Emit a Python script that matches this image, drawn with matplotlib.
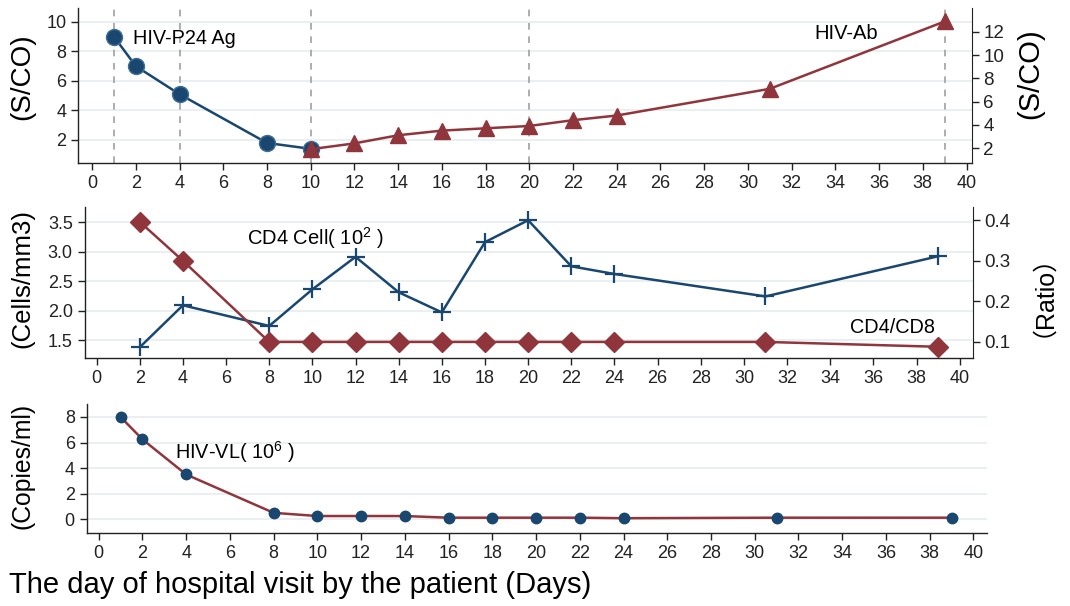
import matplotlib
matplotlib.use('Agg')
import matplotlib.pyplot as plt
import numpy as np

plt.rcParams['font.family'] = ['Liberation Sans', 'Noto Sans CJK SC', 'DejaVu Sans']

# 색상 (Stata s2color 비슷하게)
navy = '#1a476f'
maroon = '#90353b'
grid_c = '#e6eef0'

# panel 1: HIV-P24 Ag / HIV-Ab
p24_days = [1, 2, 4, 8, 10]
p24_vals = [9.0, 7.0, 5.1, 1.8, 1.4]
ab_days = [10, 12, 14, 16, 18, 20, 22, 24, 31, 39]
ab_vals = [1.9, 2.4, 3.1, 3.5, 3.7, 3.9, 4.4, 4.8, 7.1, 12.9]
dash_days = [1, 4, 10, 20, 39]

# panel 2: CD4 cell / CD4/CD8 ratio
cd4_days = [2, 4, 8, 10, 12, 14, 16, 18, 20, 22, 24, 31, 39]
cd4_vals = [1.38, 2.09, 1.74, 2.36, 2.91, 2.31, 1.97, 3.16, 3.53, 2.75, 2.62, 2.24, 2.92]
ratio_days = [2, 4, 8, 10, 12, 14, 16, 18, 20, 22, 24, 31, 39]
ratio_vals = [0.396, 0.30, 0.10, 0.10, 0.10, 0.10, 0.10, 0.10, 0.10, 0.10, 0.10, 0.10, 0.088]

# panel 3: HIV viral load
vl_days = [1, 2, 4, 8, 10, 12, 14, 16, 18, 20, 22, 24, 31, 39]
vl_vals = [8.0, 6.25, 3.5, 0.5, 0.25, 0.25, 0.25, 0.12, 0.12, 0.12, 0.12, 0.08, 0.12, 0.12]

xticks = list(range(0, 41, 2))
W, H = 1070, 606


def style_axis(ax, grid_ticks):
    for s in ['top', 'right']:
        ax.spines[s].set_visible(False)
    for s in ['left', 'bottom']:
        ax.spines[s].set_color('#222222')
        ax.spines[s].set_linewidth(1.0)
    ax.set_xticks(xticks)
    ax.tick_params(axis='both', direction='out', length=5, width=1, labelsize=13, colors='#222222')
    for t in grid_ticks:
        ax.axhline(t, color=grid_c, lw=1.2, zorder=0)


def style_right(ax):
    for s in ['top', 'left', 'bottom']:
        ax.spines[s].set_visible(False)
    ax.spines['right'].set_color('#222222')
    ax.tick_params(axis='y', direction='out', length=5, width=1, labelsize=13.5, colors='#222222')


def side_label(x_px, y_px, txt, size):
    fig.text(x_px / W, 1 - y_px / H, txt, rotation=90, ha='center', va='center', fontsize=size)


fig = plt.figure(figsize=(10.7, 6.06), dpi=100)

# ---- panel 1
ax1 = fig.add_axes([0.073, 0.731, 0.835, 0.256])
style_axis(ax1, [2, 4, 6, 8, 10])
ax1.set_xlim(-0.64, 40.23)
ax1.set_ylim(0.44, 10.95)
ax1.set_yticks([2, 4, 6, 8, 10])
for d in dash_days:
    ax1.axvline(d, color='#a0a0a0', lw=1.2, ls=(0, (4, 4)), zorder=1)
ax1.plot(p24_days, p24_vals, color=navy, lw=1.8, marker='o', ms=11.5,
         mfc=navy, mec='#3f6f96', mew=1, zorder=3)
ax1.text(1.87, 8.85, 'HIV-P24 Ag', fontsize=14.3, va='center', ha='left')

ax1r = ax1.twinx()
style_right(ax1r)
ax1r.set_ylim(0.71, 14.07)
ax1r.set_yticks([2, 4, 6, 8, 10, 12])
ax1r.plot(ab_days, ab_vals, color=maroon, lw=1.8, marker='^', ms=12,
          mfc=maroon, mec=maroon, zorder=3)
ax1r.text(33.05, 11.9, 'HIV-Ab', fontsize=14.5, va='center', ha='left')

side_label(22, 77, '(S/CO)', 20)
side_label(1030, 74, '(S/CO)', 21)

# ---- panel 2
ax2 = fig.add_axes([0.079, 0.409, 0.830, 0.249])
style_axis(ax2, [1.5, 2.0, 2.5, 3.0, 3.5])
ax2.set_xlim(-0.56, 40.6)
ax2.set_ylim(1.195, 3.75)
ax2.set_yticks([1.5, 2.0, 2.5, 3.0, 3.5])
ax2.set_yticklabels(['1.5', '2.0', '2.5', '3.0', '3.5'])
ax2.plot(cd4_days, cd4_vals, color=navy, lw=1.8, marker='+', ms=13,
         mew=1.6, zorder=3)
ax2.text(6.95, 3.23, 'CD4 Cell( $\\mathregular{10^2}$ )', fontsize=14.5, va='center', ha='left')

ax2r = ax2.twinx()
style_right(ax2r)
ax2r.set_ylim(0.06, 0.432)
ax2r.set_yticks([0.1, 0.2, 0.3, 0.4])
ax2r.plot(ratio_days, ratio_vals, color=maroon, lw=1.8, marker='D', ms=10,
          mfc=maroon, mec=maroon, zorder=3)
ax2.text(34.9, 1.72, 'CD4/CD8', fontsize=14.3, va='center', ha='left')

side_label(22, 278, '(Cells/mm3)', 18.5)
side_label(1030, 283, '\uff08Ratio\uff09', 18)

# ---- panel 3
ax3 = fig.add_axes([0.081, 0.120, 0.841, 0.213])
style_axis(ax3, [0, 2, 4, 6, 8])
ax3.set_xlim(-0.55, 40.6)
ax3.set_ylim(-1.1, 9.0)
ax3.set_yticks([0, 2, 4, 6, 8])
ax3.plot(vl_days, vl_vals, color=maroon, lw=1.8, marker='o', ms=7.5,
         mfc=navy, mec=navy, zorder=3)
ax3.text(3.47, 5.25, 'HIV-VL( $\\mathregular{10^6}$ )', fontsize=14.3, va='center', ha='left')

side_label(23, 466, '(Copies/ml)', 17.8)

fig.text(0.008, 0.012, 'The day of hospital visit by the patient (Days)', fontsize=21, ha='left', va='bottom')

fig.savefig('out.png', dpi=100)
